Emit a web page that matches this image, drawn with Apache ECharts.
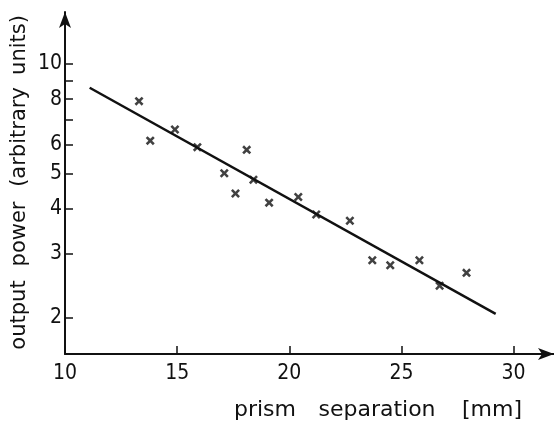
<!DOCTYPE html>
<html>
<head>
<meta charset="utf-8">
<script src="https://cdn.jsdelivr.net/npm/echarts@6/dist/echarts.min.js"></script>
<style>
  html, body { margin: 0; padding: 0; background: #fff; }
  #chart { width: 554px; height: 423px; }
</style>
</head>
<body>
<div id="chart"></div>
<script>
'use strict';
// measured points (prism separation mm, output power a.u.)
var sepMm = [13.3, 13.8, 14.9, 15.9, 17.1, 17.6, 18.1, 18.4, 19.1, 20.4, 21.2, 22.7, 23.7, 24.5, 25.8, 26.7, 27.9];
var power = [7.9, 6.15, 6.6, 5.9, 5.0, 4.4, 5.8, 4.8, 4.15, 4.3, 3.85, 3.7, 2.88, 2.79, 2.88, 2.45, 2.66];
// fitted line end points
var fitX = [11.1, 29.2];
var fitY = [8.6, 2.05];
var xTicks = [10, 15, 20, 25, 30];
var yLabels = [2, 3, 4, 5, 6, 8, 10];
var yTicks = [2, 3, 4, 5, 6, 7, 8, 9, 10];
// axis title words, spread out like the original lettering (word centres)
var yTitleWords = ['output', 'power', '(arbitrary', 'units)'];
var yTitleMid = [315, 234, 137, 45];
var xTitleWords = ['prism', 'separation', '[mm]'];
var xTitleMid = [265, 377, 492];

var font = '"DejaVu Sans Condensed", "DejaVu Sans", sans-serif';
var crossPath = 'path://M0,2 L2,0 L5,3 L8,0 L10,2 L7,5 L10,8 L8,10 L5,7 L2,10 L0,8 L3,5 Z';

var points = [];
for (var i = 0; i < sepMm.length; i++) {
  points.push([sepMm[i], power[i]]);
}
var fitLine = [];
for (var j = 0; j < fitX.length; j++) {
  fitLine.push([fitX[j], fitY[j]]);
}

var graphics = [];
yTitleWords.forEach(function (w, k) {
  graphics.push({
    type: 'text', x: 20, y: yTitleMid[k], rotation: Math.PI / 2,
    style: { text: w, font: '21px "DejaVu Sans", sans-serif', fill: '#111', align: 'center', verticalAlign: 'middle' }
  });
});
xTitleWords.forEach(function (w, k) {
  graphics.push({
    type: 'text', x: xTitleMid[k], y: 410,
    style: { text: w, font: '22px "DejaVu Sans", sans-serif', fill: '#111', align: 'center', verticalAlign: 'middle' }
  });
});

var chart = echarts.init(document.getElementById('chart'));
chart.setOption({
  animation: false,
  backgroundColor: '#fff',
  grid: { left: 65, right: 0, top: 12, bottom: 69, containLabel: false },
  xAxis: {
    type: 'value',
    min: 10,
    max: 31.8,
    interval: 5,
    splitLine: { show: false },
    axisLine: {
      lineStyle: { color: '#111', width: 2 },
      symbol: ['none', 'arrow'],
      symbolSize: [9, 16]
    },
    axisTick: { inside: true, length: 8, customValues: xTicks, lineStyle: { color: '#111', width: 1.5 } },
    axisLabel: {
      customValues: xTicks,
      color: '#111', fontSize: 21, fontFamily: font, margin: 9
    }
  },
  yAxis: {
    type: 'log',
    logBase: 10,
    min: 1.59,
    max: 13.9,
    splitLine: { show: false },
    axisLine: {
      lineStyle: { color: '#111', width: 2 },
      symbol: ['none', 'arrow'],
      symbolSize: [9, 16]
    },
    axisTick: { inside: true, length: 8, customValues: yTicks, lineStyle: { color: '#111', width: 1.5 } },
    axisLabel: {
      customValues: yLabels,
      color: '#111', fontSize: 21, fontFamily: font, margin: 3
    }
  },
  graphic: graphics,
  series: [
    {
      type: 'line',
      data: fitLine,
      symbol: 'none',
      lineStyle: { color: '#111', width: 2.5 },
      z: 2
    },
    {
      type: 'scatter',
      data: points,
      symbol: crossPath,
      symbolSize: 9,
      itemStyle: { color: '#111' },
      z: 3
    }
  ]
});
</script>
</body>
</html>
